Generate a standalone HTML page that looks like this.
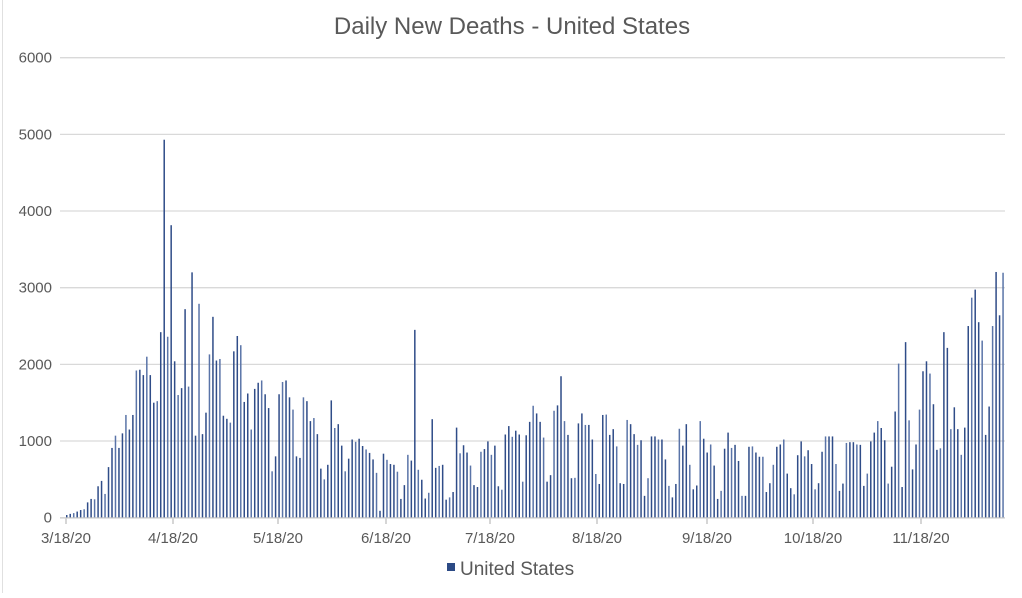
<!DOCTYPE html>
<html><head><meta charset="utf-8"><style>
html,body{margin:0;padding:0;background:#fff;}
body{width:1022px;height:593px;overflow:hidden;font-family:"Liberation Sans",Arial,sans-serif;}
</style></head><body>
<svg id="c" width="1022" height="593" xmlns="http://www.w3.org/2000/svg" font-family="Liberation Sans, Arial, sans-serif">
<rect x="0" y="0" width="1022" height="593" fill="#fff"/>
<line x1="2.5" y1="0" x2="2.5" y2="593" stroke="#e0e0e0"/>
<text x="512" y="34" text-anchor="middle" font-size="24" fill="#595959">Daily New Deaths - United States</text>
<g id="grid" stroke="#d9d9d9" stroke-width="1.3"></g>
<g id="yl" font-size="15" fill="#595959" text-anchor="end"></g>
<g id="bars" fill="#34508c"></g>
<line x1="60" y1="518" x2="1005" y2="518" stroke="#d0d0d0" stroke-width="1.3"/>
<g id="xl" font-size="15" fill="#595959" text-anchor="middle"></g>
<rect x="447" y="563" width="8" height="8" fill="#2c4a85"/>
<text x="460" y="575" font-size="19" fill="#595959">United States</text>
</svg>
<script>
var NS="http://www.w3.org/2000/svg";
function el(p,t,a,txt){var e=document.createElementNS(NS,t);for(var k in a)e.setAttribute(k,a[k]);if(txt!=null)e.textContent=txt;document.getElementById(p).appendChild(e);}
var y0=517.7,s=0.07667;
for(var v=0;v<=6000;v+=1000){var y=y0-v*s;el("grid","line",{x1:60,x2:1005,y1:y,y2:y});el("yl","text",{x:52,y:y+5},String(v));}
var d1=[35,50,60,80,100,110,200,245,240,410,480,310,660,910,1070,910,1100,1340,1150,1340,1920,1930,1860,2100,1860,1500,1520,2420,4930,2360,3815,2040,1600,1690,2720,1710,3200,1070,2790,1090,1370,2130,2620,2050,2070,1330,1290,1240,2170,2370,2250,1510,1620,1150,1680,1760,1790,1610,1430,605,800,1610,1770,1790,1570,1410,800,780,1570,1520,1260,1300,1090,640,500,690,1530,1170,1220,940,605,770,1020,990,1030];
var d3=[935,890,845,760,585,90,835,755,700,690,600,245,425,820,745,2450,625,495,250,325,1285,650,675,690,235,265,335,1175,840,945,850,680,425,400,860,895,995,820,940,410,365,1085,1195,1055,1135,1085,470,1075,1250,1460,1360,1250,1045,470,555,1395,1465,1845,1260,1080,515,520,1230,1360,1210,1210,1020,570,440,1340,1345,1080,1155,930,450,440,1275,1220,1090,950,1010,285,515,1060,1060,1020,1020,760,415,265,440,1160];
var d2=[940,1220,690,370,420,1260,1030,850,955,680,245,350,900,1110,910,950,740,285,285,925,930,850,795,795,335,450,690,925,955,1020,575,385,305,815,995,800,880,700,370,450,860,1060,1060,1060,700,350,445,975,985,985,955,950,415,575,995,1110,1260,1170,1010,445,665,1385,2010,400,2290,1270,630,955,1410,1910,2040,1880,1480,885,905,2420,2215,1155,1440,1155,820,1175,2500,2870,2975,2550,2310,1080,1450,2500,3205,2640,3195];
var d=d1.concat(d3,d2);
var x0=66.7,x1=1003,st=(x1-x0)/(d.length-1);
for(var i=0;i<d.length;i++){var h=d[i]*s;el("bars","rect",{x:(x0+i*st-0.7).toFixed(2),y:(y0-h).toFixed(2),width:1.5,height:h.toFixed(2),fill:(i%3==2?"#5a74a8":"#2f4c88")});}
var xs=[[66,"3/18/20"],[173,"4/18/20"],[278,"5/18/20"],[386,"6/18/20"],[490,"7/18/20"],[597,"8/18/20"],[707,"9/18/20"],[813,"10/18/20"],[921,"11/18/20"]];
xs.forEach(function(p){el("xl","text",{x:p[0],y:543},p[1]);el("grid","line",{x1:p[0],x2:p[0],y1:518,y2:524,stroke:"#bfbfbf"});});
</script>
</body></html>
